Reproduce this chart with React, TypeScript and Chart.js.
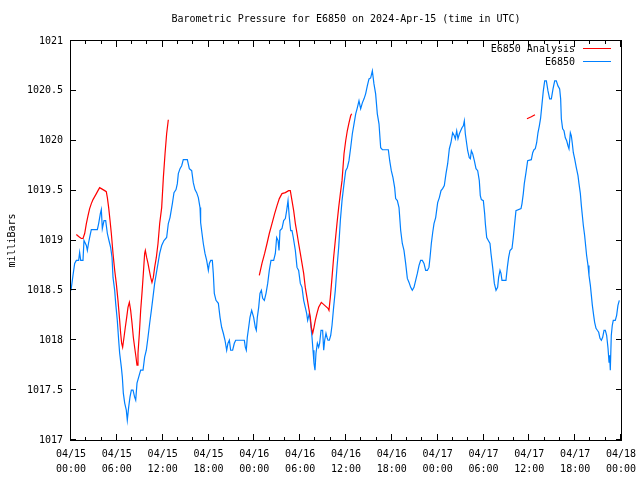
import React, { useEffect, useRef } from "react";
import { Chart, registerables } from "chart.js";

Chart.register(...registerables);

const TITLE = "Barometric Pressure for E6850 on 2024-Apr-15 (time in UTC)";
const Y_TITLE = "milliBars";
const SERIES_NAMES = ["E6850 Analysis", "E6850"];
const DATES = ["04/15", "04/16", "04/17", "04/18"];

// hours since 2024-04-15 00:00 UTC
const blueHours = [
  0.0, 0.26, 0.48, 0.7, 1.0, 1.13, 1.27, 1.57, 1.7, 2.01, 2.14, 2.31, 2.49, 2.66, 3.45, 3.62, 3.84, 3.97,
  4.1, 4.32, 4.54, 4.76, 4.97, 5.19, 5.37, 5.5, 5.72, 5.85, 6.06, 6.24, 6.37, 6.59, 6.72, 6.85, 7.03, 7.24,
  7.37, 7.55, 7.72, 7.9, 8.12, 8.33, 8.47, 8.64, 8.86, 9.12, 9.43, 9.64, 9.86, 10.08, 10.3, 10.52, 10.73,
  10.95, 11.17, 11.39, 11.61, 11.87, 12.17, 12.52, 12.74, 12.96, 13.27, 13.48, 13.75, 13.92, 14.05, 14.27,
  14.49, 14.7, 15.23, 15.49, 15.8, 16.01, 16.23, 16.45, 16.67, 16.89, 16.97, 17.15, 17.32, 17.54, 17.76,
  17.98, 18.11, 18.29, 18.5, 18.63, 18.76, 18.98, 19.29, 19.51, 19.72, 19.94, 20.16, 20.38, 20.55, 20.73,
  20.9, 21.16, 21.38, 21.56, 22.69, 22.82, 22.95, 23.08, 23.26, 23.43, 23.65, 23.91, 24.13, 24.26, 24.39,
  24.57, 24.74, 24.92, 25.09, 25.31, 25.53, 25.75, 25.96, 26.18, 26.53, 26.75, 26.92, 27.1, 27.23, 27.36,
  27.62, 27.84, 28.06, 28.23, 28.41, 28.58, 28.76, 28.93, 29.1, 29.37, 29.59, 29.8, 30.02, 30.24, 30.46,
  30.67, 30.85, 30.98, 31.2, 31.37, 31.55, 31.68, 31.81, 31.94, 32.07, 32.25, 32.42, 32.55, 32.73, 32.94,
  33.08, 33.21, 33.38, 33.51, 33.64, 33.82, 34.0, 34.17, 34.38, 34.6, 34.82, 35.04, 35.26, 35.48, 35.74,
  35.96, 36.17, 36.39, 36.61, 36.83, 37.05, 37.27, 37.48, 37.7, 37.92, 38.14, 38.36, 38.57, 38.79, 39.01,
  39.23, 39.45, 39.66, 39.88, 40.1, 40.32, 40.54, 40.76, 41.54, 41.72, 41.93, 42.15, 42.37, 42.5, 42.72,
  42.94, 43.16, 43.37, 43.59, 43.81, 44.03, 44.25, 44.47, 44.68, 44.9, 45.12, 45.34, 45.56, 45.77, 45.99,
  46.21, 46.43, 46.65, 46.86, 47.0, 47.17, 47.35, 47.52, 47.74, 48.0, 48.22, 48.44, 48.65, 48.87, 49.09,
  49.31, 49.53, 49.74, 49.96, 50.18, 50.31, 50.49, 50.66, 50.84, 51.01, 51.18, 51.36, 51.49, 51.62, 51.8,
  51.93, 52.14, 52.28, 52.41, 52.58, 52.8, 53.02, 53.24, 53.45, 53.58, 53.72, 53.98, 54.15, 54.24, 54.42,
  54.63, 54.85, 54.98, 55.2, 55.42, 55.64, 55.85, 55.98, 56.16, 56.29, 56.42, 56.94, 57.12, 57.29, 57.47,
  57.73, 57.9, 58.08, 58.25, 58.91, 59.04, 59.21, 59.34, 59.56, 59.78, 60.26, 60.44, 60.61, 60.78, 60.96,
  61.13, 61.31, 61.48, 61.66, 61.83, 62.01, 62.23, 62.44, 62.66, 62.88, 63.1, 63.32, 63.53, 63.75, 63.97,
  64.1, 64.19, 64.36, 64.54, 64.71, 64.89, 65.06, 65.19, 65.37, 65.5, 65.63, 65.76, 65.93, 66.15, 66.37,
  66.5, 66.68, 66.81, 66.94, 67.07, 67.24, 67.37, 67.5, 67.68, 67.81, 67.99, 68.12, 68.25, 68.42, 68.55,
  68.73, 68.9, 69.08, 69.25, 69.43, 69.6, 69.78, 69.95, 70.12, 70.3, 70.43, 70.51, 70.6, 70.73, 70.86,
  70.99, 71.25, 71.43, 71.6, 71.78,
];

const bluePressure = [
  1018.5, 1018.65, 1018.77, 1018.8, 1018.8, 1018.88, 1018.8, 1018.8, 1019.0, 1018.95, 1018.9, 1018.98,
  1019.05, 1019.11, 1019.11, 1019.17, 1019.27, 1019.31, 1019.12, 1019.2, 1019.2, 1019.07, 1019.0, 1018.93,
  1018.83, 1018.63, 1018.5, 1018.37, 1018.2, 1018.0, 1017.87, 1017.73, 1017.63, 1017.47, 1017.37, 1017.3,
  1017.2, 1017.33, 1017.43, 1017.5, 1017.5, 1017.43, 1017.4, 1017.57, 1017.63, 1017.7, 1017.7, 1017.83,
  1017.9, 1018.03, 1018.17, 1018.3, 1018.43, 1018.57, 1018.67, 1018.77, 1018.87, 1018.95, 1019.0, 1019.03,
  1019.17, 1019.23, 1019.37, 1019.48, 1019.51, 1019.57, 1019.67, 1019.72, 1019.75, 1019.81, 1019.81,
  1019.72, 1019.7, 1019.58, 1019.51, 1019.48, 1019.43, 1019.33, 1019.18, 1019.07, 1018.97, 1018.87, 1018.8,
  1018.7, 1018.77, 1018.8, 1018.8, 1018.67, 1018.47, 1018.4, 1018.37, 1018.23, 1018.13, 1018.07, 1018.0,
  1017.9, 1017.97, 1018.0, 1017.9, 1017.9, 1017.97, 1018.0, 1018.0, 1017.93, 1017.9, 1018.03, 1018.13,
  1018.23, 1018.3, 1018.23, 1018.13, 1018.1, 1018.23, 1018.33, 1018.47, 1018.5, 1018.42, 1018.4, 1018.47,
  1018.57, 1018.7, 1018.8, 1018.8, 1018.87, 1019.03, 1019.0, 1018.9, 1019.1, 1019.12, 1019.2, 1019.22,
  1019.3, 1019.4, 1019.23, 1019.1, 1019.1, 1019.03, 1018.9, 1018.73, 1018.7, 1018.57, 1018.53, 1018.4,
  1018.33, 1018.27, 1018.2, 1018.27, 1018.17, 1018.03, 1017.9, 1017.77, 1017.7, 1017.87, 1017.97, 1017.93,
  1017.97, 1018.1, 1018.1, 1017.9, 1018.0, 1018.07, 1018.03, 1018.0, 1018.0, 1018.05, 1018.15, 1018.33,
  1018.5, 1018.73, 1018.93, 1019.2, 1019.4, 1019.57, 1019.7, 1019.73, 1019.8, 1019.93, 1020.07, 1020.17,
  1020.27, 1020.33, 1020.4, 1020.32, 1020.38, 1020.42, 1020.47, 1020.55, 1020.62, 1020.63, 1020.7, 1020.57,
  1020.47, 1020.27, 1020.17, 1019.93, 1019.91, 1019.91, 1019.8, 1019.7, 1019.63, 1019.53, 1019.42, 1019.4,
  1019.33, 1019.1, 1018.97, 1018.9, 1018.77, 1018.62, 1018.58, 1018.53, 1018.5, 1018.53, 1018.6, 1018.67,
  1018.75, 1018.8, 1018.8, 1018.77, 1018.7, 1018.7, 1018.73, 1018.83, 1018.97, 1019.08, 1019.17, 1019.23,
  1019.38, 1019.43, 1019.5, 1019.52, 1019.55, 1019.67, 1019.77, 1019.92, 1019.98, 1020.08, 1020.05,
  1020.02, 1020.1, 1020.02, 1020.07, 1020.1, 1020.13, 1020.15, 1020.2, 1020.07, 1019.97, 1019.9, 1019.83,
  1019.82, 1019.9, 1019.87, 1019.8, 1019.72, 1019.7, 1019.6, 1019.45, 1019.41, 1019.4, 1019.27, 1019.17,
  1019.03, 1019.0, 1018.97, 1018.87, 1018.73, 1018.57, 1018.5, 1018.53, 1018.63, 1018.7, 1018.67, 1018.6,
  1018.6, 1018.73, 1018.83, 1018.9, 1018.92, 1019.03, 1019.17, 1019.3, 1019.32, 1019.37, 1019.47, 1019.57,
  1019.68, 1019.8, 1019.81, 1019.88, 1019.91, 1019.92, 1019.98, 1020.08, 1020.15, 1020.23, 1020.37, 1020.5,
  1020.6, 1020.6, 1020.5, 1020.42, 1020.42, 1020.52, 1020.6, 1020.6, 1020.55, 1020.52, 1020.42, 1020.22,
  1020.12, 1020.1, 1020.03, 1020.0, 1019.95, 1019.92, 1020.08, 1020.05, 1019.97, 1019.88, 1019.82, 1019.73,
  1019.65, 1019.57, 1019.47, 1019.35, 1019.25, 1019.15, 1019.05, 1018.95, 1018.85, 1018.75, 1018.65,
  1018.55, 1018.45, 1018.35, 1018.25, 1018.18, 1018.12, 1018.1, 1018.08, 1018.02, 1018.0, 1018.03, 1018.1,
  1018.1, 1018.05, 1017.92, 1017.78, 1017.85, 1017.7, 1018.05, 1018.15, 1018.2, 1018.2, 1018.25, 1018.35,
  1018.4,
];

// analysis series; null marks a gap in the record
const redHours = [
  0.7, 1.0, 1.35, 1.57, 1.79, 2.01, 2.23, 2.44, 2.66, 2.88, 3.1, 3.32, 3.53, 3.75, 3.97, 4.41, 4.62, 4.76,
  4.93, 5.11, 5.28, 5.5, 5.72, 5.93, 6.15, 6.37, 6.5, 6.63, 6.76, 6.94, 7.11, 7.29, 7.46, 7.64, 7.81, 7.99,
  8.16, 8.33, 8.51, 8.64, 8.77, 8.95, 9.12, 9.29, 9.47, 9.64, 9.73, 9.9, 10.08, 10.25, 10.43, 10.6, 10.78,
  10.95, 11.17, 11.39, 11.61, 11.87, 12.09, 12.31, 12.52, 12.74, 18.0, 24.65, 25.0, 25.35, 25.66, 25.96,
  26.31, 26.66, 26.97, 27.27, 27.62, 28.06, 28.49, 28.71, 28.93, 29.15, 29.37, 29.59, 29.8, 30.02, 30.24,
  30.46, 30.67, 30.89, 31.11, 31.33, 31.46, 31.64, 31.81, 31.98, 32.2, 32.42, 32.77, 33.21, 33.64, 33.77,
  33.95, 34.17, 34.38, 34.6, 34.82, 35.04, 35.26, 35.48, 35.74, 35.96, 36.17, 36.39, 36.61, 36.74, 48.0,
  59.69, 60.26, 60.74,
];

const redPressure = [
  1019.06, 1019.04, 1019.02, 1019.02, 1019.07, 1019.17, 1019.25, 1019.32, 1019.37, 1019.41, 1019.44,
  1019.47, 1019.5, 1019.53, 1019.52, 1019.5, 1019.49, 1019.43, 1019.33, 1019.2, 1019.07, 1018.87, 1018.7,
  1018.57, 1018.4, 1018.2, 1018.07, 1017.97, 1017.93, 1018.03, 1018.13, 1018.23, 1018.33, 1018.38, 1018.3,
  1018.17, 1018.03, 1017.93, 1017.83, 1017.75, 1017.87, 1018.07, 1018.3, 1018.47, 1018.67, 1018.87, 1018.9,
  1018.83, 1018.77, 1018.7, 1018.63, 1018.58, 1018.63, 1018.73, 1018.83, 1018.97, 1019.17, 1019.33,
  1019.63, 1019.87, 1020.07, 1020.21, null, 1018.65, 1018.77, 1018.87, 1018.97, 1019.07, 1019.17, 1019.27,
  1019.35, 1019.42, 1019.47, 1019.48, 1019.5, 1019.5, 1019.4, 1019.3, 1019.17, 1019.07, 1018.97, 1018.87,
  1018.77, 1018.67, 1018.53, 1018.43, 1018.33, 1018.23, 1018.13, 1018.07, 1018.13, 1018.2, 1018.27,
  1018.33, 1018.38, 1018.35, 1018.32, 1018.3, 1018.43, 1018.63, 1018.83, 1019.0, 1019.17, 1019.33,
  1019.47, 1019.6, 1019.87, 1020.0, 1020.1, 1020.18, 1020.25, 1020.27, null, 1020.22, 1020.24, 1020.26,
];

const X_MIN = 0;
const X_MAX = 72;
const Y_MIN = 1017;
const Y_MAX = 1021;

const RED = "#ff0000";
const BLUE = "#0080ff";
const FONT = "'DejaVu Sans Mono', 'Liberation Mono', monospace";

const decorPlugin = {
  id: "decor",
  afterDraw(chart: any) {
    const { ctx, chartArea } = chart;
    const { left, right, top, bottom } = chartArea;
    const xs = chart.scales.x;
    const ys = chart.scales.y;
    ctx.save();
    ctx.strokeStyle = "#000";
    ctx.lineWidth = 1;
    // border
    ctx.strokeRect(Math.round(left) - 0.5, Math.round(top) - 0.5, Math.round(right - left) + 1, Math.round(bottom - top) + 1);
    ctx.beginPath();
    // x tics (inward)
    for (let h = X_MIN; h <= X_MAX; h += 2) {
      const px = Math.round(xs.getPixelForValue(h)) - 0.5;
      const len = h % 6 === 0 ? 6 : 3;
      ctx.moveTo(px, bottom);
      ctx.lineTo(px, bottom - len);
      ctx.moveTo(px, top);
      ctx.lineTo(px, top + len);
    }
    // y tics (inward)
    for (let v = Y_MIN; v <= Y_MAX + 1e-9; v += 0.5) {
      const py = Math.round(ys.getPixelForValue(v)) - 0.5;
      ctx.moveTo(left, py);
      ctx.lineTo(left + 5, py);
      ctx.moveTo(right, py);
      ctx.lineTo(right - 5, py);
    }
    ctx.stroke();

    // title
    ctx.fillStyle = "#000";
    ctx.font = `10px ${FONT}`;
    ctx.textAlign = "center";
    ctx.textBaseline = "middle";
    ctx.fillText(TITLE, (left + right) / 2, 19);

    // legend inside plot, top right
    const colors = [RED, BLUE];
    ctx.textAlign = "right";
    SERIES_NAMES.forEach((name, i) => {
      const y = 49 + i * 13;
      ctx.fillStyle = "#000";
      ctx.fillText(name, 575, y);
      ctx.strokeStyle = colors[i];
      ctx.beginPath();
      ctx.moveTo(583, Math.round(y) - 0.5);
      ctx.lineTo(611, Math.round(y) - 0.5);
      ctx.stroke();
    });
    ctx.restore();
  },
};

export default function App() {
  const ref = useRef<HTMLCanvasElement>(null);

  useEffect(() => {
    if (!ref.current) return;
    const blueData = blueHours.map((h, i) => ({ x: h, y: bluePressure[i] }));
    const redData = redHours.map((h, i) => ({ x: h, y: redPressure[i] }));
    const chart = new Chart(ref.current, {
      type: "line",
      data: {
        datasets: [
          {
            label: SERIES_NAMES[0],
            data: redData as any,
            borderColor: RED,
            borderWidth: 1.2,
            pointRadius: 0,
            spanGaps: false,
            tension: 0,
          },
          {
            label: SERIES_NAMES[1],
            data: blueData as any,
            borderColor: BLUE,
            borderWidth: 1.2,
            pointRadius: 0,
            tension: 0,
          },
        ],
      },
      options: {
        animation: false,
        responsive: false,
        events: [],
        layout: { padding: { left: 0, top: 41, right: 19, bottom: 0 } },
        plugins: {
          legend: { display: false },
          title: { display: false },
          tooltip: { enabled: false },
        },
        scales: {
          x: {
            type: "linear",
            min: X_MIN,
            max: X_MAX,
            grid: { display: false, drawTicks: false },
            border: { display: false },
            afterFit: (s: any) => {
              s.height = 40;
              s.paddingLeft = 0;
              s.paddingRight = 0;
            },
            afterBuildTicks: (s: any) => {
              const t = [];
              for (let h = X_MIN; h <= X_MAX; h += 6) t.push({ value: h });
              s.ticks = t;
            },
            ticks: {
              autoSkip: false,
              maxRotation: 0,
              padding: 7,
              color: "#000",
              font: { family: FONT, size: 10, lineHeight: 1.5 },
              callback: (v: any) => {
                const h = Number(v);
                const d = DATES[Math.floor(h / 24)];
                const hh = String(h % 24).padStart(2, "0");
                return [d, `${hh}:00`];
              },
            },
          },
          y: {
            min: Y_MIN,
            max: Y_MAX,
            grid: { display: false, drawTicks: false },
            border: { display: false },
            afterFit: (s: any) => {
              s.width = 71;
              s.paddingTop = 0;
              s.paddingBottom = 0;
            },
            ticks: {
              stepSize: 0.5,
              padding: 8,
              color: "#000",
              font: { family: FONT, size: 10 },
              callback: (v: any) => String(v),
            },
            title: {
              display: true,
              text: Y_TITLE,
              color: "#000",
              font: { family: FONT, size: 10 },
              padding: { top: 6, bottom: 0 },
            },
          },
        },
      },
      plugins: [decorPlugin],
    });
    return () => chart.destroy();
  }, []);

  return (
    <div style={{ position: "fixed", left: 0, top: 0, width: 640, height: 480, background: "#fff" }}>
      <canvas ref={ref} width={640} height={480} style={{ display: "block" }} />
    </div>
  );
}
